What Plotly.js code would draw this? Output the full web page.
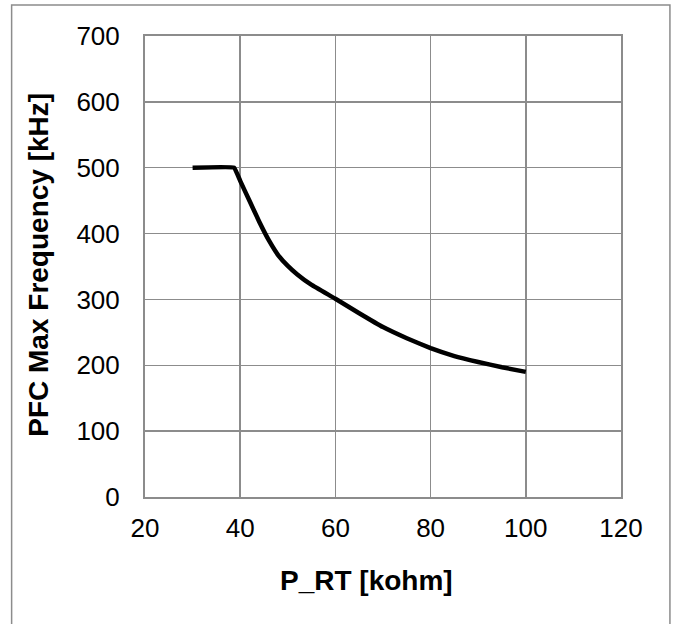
<!DOCTYPE html>
<html>
<head>
<meta charset="utf-8">
<script src="https://cdn.plot.ly/plotly-3.0.1.min.js"></script>
<style>
html,body{margin:0;padding:0;background:#fff;}
#chart{width:677px;height:624px;}
</style>
</head>
<body>
<div id="chart"></div>
<script>
const rtKohm = [30, 38.7, 40, 42, 44, 46, 48, 50, 52, 55, 60, 65, 70, 75, 80, 85, 90, 95, 100];
const freqKhz = [500, 500, 480, 449, 418, 390, 367, 351, 338, 322, 301, 279, 258, 241, 226, 214, 205, 197, 190];

const xTickVals = [20, 40, 60, 80, 100, 120];
const yTickVals = [0, 100, 200, 300, 400, 500, 600, 700];
const xTitle = 'P_RT [kohm]';
const yTitle = 'PFC Max Frequency [kHz]';

const trace = {
  x: rtKohm,
  y: freqKhz,
  type: 'scatter',
  mode: 'lines',
  line: {color: '#000000', width: 4.5, shape: 'spline', smoothing: 0.25},
  hoverinfo: 'skip'
};

const fontFam = 'Liberation Sans, Arial, sans-serif';
const gridColor = '#8c8c8c';

const layout = {
  width: 677,
  height: 624,
  margin: {l: 144.5, r: 56, t: 36, b: 127, pad: 0},
  paper_bgcolor: '#ffffff',
  plot_bgcolor: '#ffffff',
  showlegend: false,
  font: {family: fontFam, color: '#000000', size: 26},
  xaxis: {
    range: [20, 120],
    tickvals: xTickVals,
    ticktext: xTickVals.map(String),
    showgrid: true,
    gridcolor: gridColor,
    gridwidth: 1.5,
    showline: true,
    linecolor: gridColor,
    linewidth: 2,
    mirror: true,
    zeroline: false,
    ticks: 'outside',
    ticklen: 7,
    tickcolor: 'rgba(0,0,0,0)',
    tickfont: {family: fontFam, size: 26, color: '#000'}
  },
  yaxis: {
    range: [0, 700],
    tickvals: yTickVals,
    ticktext: yTickVals.map(String),
    showgrid: true,
    gridcolor: gridColor,
    gridwidth: 1.5,
    showline: true,
    linecolor: gridColor,
    linewidth: 2,
    mirror: true,
    zeroline: false,
    ticks: 'outside',
    ticklen: 18,
    tickcolor: 'rgba(0,0,0,0)',
    tickfont: {family: fontFam, size: 26, color: '#000'}
  },
  annotations: [
    {
      text: '<b>' + xTitle + '</b>', xref: 'paper', yref: 'paper',
      x: 0.4648, y: -0.1822, xanchor: 'center', yanchor: 'middle',
      showarrow: false, font: {family: fontFam, size: 28, color: '#000'}
    },
    {
      text: '<b>' + yTitle + '</b>', xref: 'paper', yref: 'paper',
      x: -0.2235, y: 0.503, xanchor: 'center', yanchor: 'middle', textangle: -90,
      showarrow: false, font: {family: fontFam, size: 28, color: '#000'}
    }
  ],
  shapes: [{
    type: 'rect', xref: 'paper', yref: 'paper',
    x0: -0.2802, x1: 1.1028, y0: -0.2777, y1: 1.0672,
    line: {color: '#8c8c8c', width: 1.5},
    fillcolor: 'rgba(0,0,0,0)',
    layer: 'below'
  }]
};

Plotly.newPlot('chart', [trace], layout, {displayModeBar: false, staticPlot: true});
</script>
</body>
</html>
